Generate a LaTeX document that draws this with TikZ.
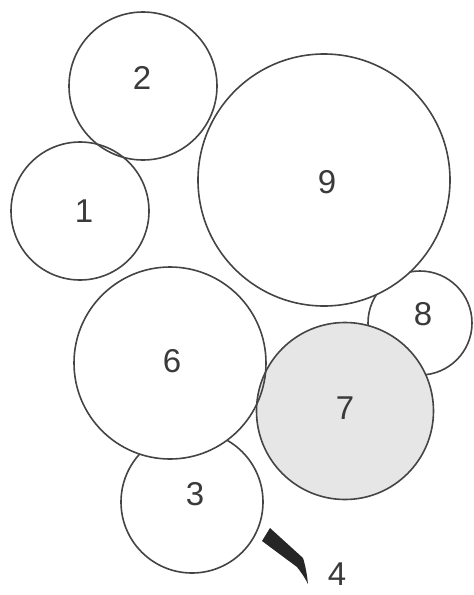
\documentclass[tikz,border=0pt]{standalone}
\usepackage{fontspec}
\setmainfont{Liberation Sans}
\usetikzlibrary{positioning}
\definecolor{rimcolor}{HTML}{444444}
\definecolor{numcolor}{HTML}{3A3A3A}
\definecolor{diskgray}{HTML}{E6E6E6}
\definecolor{wedgecolor}{HTML}{262626}

\begin{document}
\begin{tikzpicture}[x=1pt, y=-1pt,
    disc/.style={
        circle, inner sep=0pt, outer sep=0pt, minimum size=#1, fill=white
    },
    rim/.style={
        draw=rimcolor, line width=1.6pt
    },
    num/.style={
        font=\fontsize{33}{33}\selectfont, text=numcolor, inner sep=1pt
    }
]
\useasboundingbox (0,0) rectangle (474,595);

% Discs that lie under others
\node[disc=142pt, rim] (c3) at (192,502) {};
\node[disc=104pt, rim] (c8) at (420,323) {};

% Discs on top (fill first, rims after)
\node[disc=138pt] (c1) at (80,211) {};
\node[disc=148pt] (c2) at (143,86) {};
\node[disc=252pt] (c9) at (324,180) {};
\node[disc=192pt] (c6) at (170,363) {};
\node[disc=177pt, fill=diskgray] (c7) at (345,411) {};

\draw[rim] (c1.center) circle[radius=69];
\draw[rim] (c2.center) circle[radius=74];
\draw[rim] (c9.center) circle[radius=126];
\draw[rim] (c6.center) circle[radius=96];
\draw[rim] (c7.center) circle[radius=88.5];

% Numbers
\node[num] (n1) at (84,211) {1};
\node[num] (n2) at (142,78) {2};
\node[num] (n3) at (195,494) {3};
\node[num] (n6) at (172,361) {6};
\node[num] (n7) at (345,408) {7};
\node[num] (n8) at (423,314) {8};
\node[num] (n9) at (327,182) {9};

% Blade 4
\fill[wedgecolor] (262,541) -- (270,528) -- (303,558)
    .. controls (305,564) and (307,574) .. (308,584)
    .. controls (304,576) and (300,571) .. (297,567) -- cycle;
\node[num] (n4) at (337,574) {4};

\end{tikzpicture}
\end{document}
